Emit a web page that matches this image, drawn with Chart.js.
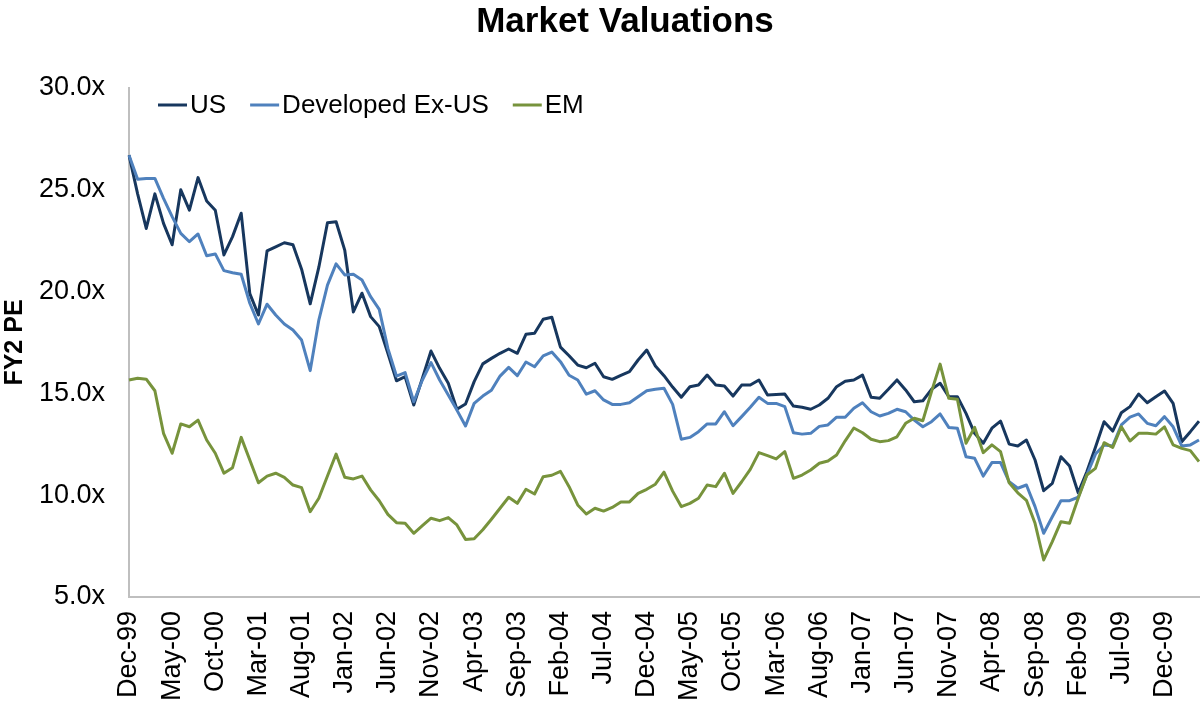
<!DOCTYPE html>
<html>
<head>
<meta charset="utf-8">
<script src="https://cdn.jsdelivr.net/npm/chart.js@4.4.1/dist/chart.umd.min.js"></script>
<style>
  html, body { margin: 0; padding: 0; background: #fff; }
  #wrap { width: 1200px; height: 710px; }
</style>
</head>
<body>
<div id="wrap"><canvas id="chart" width="1200" height="710"></canvas></div>
<script>
var months = [
  "Dec-99",
  "Jan-00","Feb-00","Mar-00","Apr-00","May-00","Jun-00","Jul-00","Aug-00","Sep-00","Oct-00","Nov-00","Dec-00",
  "Jan-01","Feb-01","Mar-01","Apr-01","May-01","Jun-01","Jul-01","Aug-01","Sep-01","Oct-01","Nov-01","Dec-01",
  "Jan-02","Feb-02","Mar-02","Apr-02","May-02","Jun-02","Jul-02","Aug-02","Sep-02","Oct-02","Nov-02","Dec-02",
  "Jan-03","Feb-03","Mar-03","Apr-03","May-03","Jun-03","Jul-03","Aug-03","Sep-03","Oct-03","Nov-03","Dec-03",
  "Jan-04","Feb-04","Mar-04","Apr-04","May-04","Jun-04","Jul-04","Aug-04","Sep-04","Oct-04","Nov-04","Dec-04",
  "Jan-05","Feb-05","Mar-05","Apr-05","May-05","Jun-05","Jul-05","Aug-05","Sep-05","Oct-05","Nov-05","Dec-05",
  "Jan-06","Feb-06","Mar-06","Apr-06","May-06","Jun-06","Jul-06","Aug-06","Sep-06","Oct-06","Nov-06","Dec-06",
  "Jan-07","Feb-07","Mar-07","Apr-07","May-07","Jun-07","Jul-07","Aug-07","Sep-07","Oct-07","Nov-07","Dec-07",
  "Jan-08","Feb-08","Mar-08","Apr-08","May-08","Jun-08","Jul-08","Aug-08","Sep-08","Oct-08","Nov-08","Dec-08",
  "Jan-09","Feb-09","Mar-09","Apr-09","May-09","Jun-09","Jul-09","Aug-09","Sep-09","Oct-09","Nov-09","Dec-09",
  "Jan-10","Feb-10","Mar-10","Apr-10"
];

// FY2 PE, one value per month
var usPE = [
  26.7,
  24.8,23.1,24.8,23.35,22.3,25.0,24.0,25.6,24.45,24.0,21.8,22.7,
  23.85,19.9,18.85,22.0,22.2,22.4,22.3,21.1,19.4,21.2,23.38,23.43,
  22.04,19.0,19.92,18.77,18.28,16.97,15.62,15.82,14.43,15.74,17.08,16.23,
  15.5,14.22,14.48,15.58,16.45,16.72,16.97,17.18,16.97,17.9,17.95,18.64,
  18.74,17.27,16.85,16.39,16.26,16.48,15.82,15.69,15.89,16.07,16.64,17.13,
  16.35,15.87,15.31,14.81,15.33,15.41,15.9,15.41,15.36,14.87,15.41,15.41,
  15.66,14.92,14.95,14.97,14.38,14.32,14.22,14.43,14.76,15.33,15.6,15.66,
  15.9,14.81,14.76,15.2,15.66,15.17,14.59,14.64,15.2,15.5,14.84,14.84,
  14.02,13.04,12.55,13.29,13.64,12.51,12.42,12.71,11.73,10.22,10.58,11.89,
  11.43,10.12,11.15,12.35,13.61,13.15,14.05,14.35,14.97,14.54,14.84,15.12,
  14.51,12.63,13.12,13.64
];

var devExUsPE = [
  26.7,
  25.52,25.56,25.56,24.58,23.68,22.86,22.45,22.83,21.76,21.85,21.03,20.93,
  20.85,19.43,18.41,19.38,18.85,18.41,18.11,17.62,16.12,18.6,20.32,21.36,
  20.82,20.85,20.57,19.75,19.13,17.21,15.85,16.02,14.59,15.66,16.51,15.66,
  14.92,14.18,13.4,14.51,14.87,15.15,15.85,16.28,15.87,16.54,16.31,16.84,
  17.03,16.56,15.89,15.66,14.96,15.13,14.68,14.46,14.46,14.54,14.84,15.13,
  15.2,15.25,14.46,12.75,12.84,13.12,13.5,13.5,14.1,13.41,13.86,14.32,
  14.81,14.51,14.51,14.35,13.07,13.0,13.04,13.38,13.45,13.83,13.83,14.27,
  14.54,14.1,13.89,14.02,14.22,14.1,13.69,13.36,13.61,13.99,13.33,13.29,
  11.89,11.81,10.94,11.6,11.6,10.66,10.34,10.5,9.44,8.13,8.94,9.73,
  9.73,9.9,10.99,12.02,12.47,12.42,13.45,13.83,13.99,13.53,13.41,13.86,
  13.36,12.42,12.47,12.71
];

var emPE = [
  15.66,
  15.74,15.7,15.13,13.04,12.06,13.5,13.36,13.69,12.71,12.06,11.08,11.35,
  12.84,11.73,10.61,10.94,11.08,10.88,10.5,10.37,9.19,9.85,10.94,12.02,
  10.88,10.8,10.94,10.26,9.73,9.06,8.65,8.62,8.13,8.5,8.87,8.75,
  8.9,8.54,7.83,7.86,8.3,8.82,9.36,9.9,9.6,10.29,10.06,10.91,
  10.98,11.17,10.42,9.52,9.08,9.36,9.22,9.4,9.67,9.67,10.09,10.29,
  10.54,11.13,10.2,9.44,9.6,9.85,10.5,10.42,11.08,10.09,10.66,11.27,
  12.09,11.94,11.78,12.14,10.83,10.99,11.24,11.57,11.68,11.97,12.67,13.3,
  13.07,12.75,12.63,12.68,12.87,13.53,13.78,13.66,15.09,16.44,14.76,14.71,
  12.55,13.33,12.09,12.47,12.14,10.61,10.12,9.75,8.62,6.82,7.72,8.7,
  8.62,9.85,10.99,11.32,12.58,12.35,13.36,12.66,13.04,13.04,13.0,13.36,
  12.47,12.3,12.19,11.65
];

var seriesNames = ["US", "Developed Ex-US", "EM"];
var seriesColors = ["#17375E", "#4F81BD", "#77933C"];
var chartTitle = "Market Valuations";

var FONT = '"Liberation Sans", Arial, sans-serif';

// title sits a little left of the plot centre, as in the original
var titlePlugin = {
  id: 'offsetTitle',
  afterDraw: function(chart) {
    var ctx = chart.ctx;
    ctx.save();
    ctx.font = 'bold 35px ' + FONT;
    ctx.fillStyle = '#000';
    ctx.textAlign = 'center';
    ctx.textBaseline = 'middle';
    ctx.fillText(chartTitle, 625, 22);
    ctx.restore();
  }
};

// legend inside the plot, top left
var insideLegend = {
  id: 'insideLegend',
  afterDraw: function(chart) {
    var ctx = chart.ctx;
    var x = chart.chartArea.left + 29;
    var y = chart.chartArea.top + 17;
    ctx.save();
    ctx.font = '26px ' + FONT;
    ctx.textBaseline = 'middle';
    for (var i = 0; i < chart.data.datasets.length; i++) {
      var ds = chart.data.datasets[i];
      ctx.strokeStyle = ds.borderColor;
      ctx.lineWidth = 3;
      ctx.beginPath();
      ctx.moveTo(x, y);
      ctx.lineTo(x + 29, y);
      ctx.stroke();
      ctx.fillStyle = '#000';
      ctx.fillText(ds.label, x + 32, y + 1);
      x += 32 + ctx.measureText(ds.label).width + 24;
    }
    ctx.restore();
  }
};

var datasets = [usPE, devExUsPE, emPE].map(function(vals, i) {
  return {
    label: seriesNames[i],
    data: vals,
    borderColor: seriesColors[i],
    backgroundColor: seriesColors[i],
    borderWidth: 3,
    pointRadius: 0,
    tension: 0,
    fill: false,
    borderJoinStyle: 'round',
    order: 3 - i
  };
});

var ctx = document.getElementById('chart').getContext('2d');
var myChart = new Chart(ctx, {
  type: 'line',
  data: { labels: months, datasets: datasets },
  plugins: [titlePlugin, insideLegend],
  options: {
    responsive: false,
    animation: false,
    layout: { padding: { left: 0, right: 1, top: 88, bottom: 0 } },
    plugins: {
      legend: { display: false },
      tooltip: { enabled: false },
      title: { display: false }
    },
    scales: {
      x: {
        offset: false,
        grid: { display: false },
        border: { display: true, color: '#BFBFBF', width: 2 },
        ticks: {
          autoSkip: false,
          minRotation: 90,
          maxRotation: 90,
          padding: 6,
          color: '#000',
          font: { family: FONT, size: 27 },
          callback: function(v, idx) {
            return idx % 5 === 0 ? months[idx] : '';
          }
        },
        afterFit: function(scale) {
          scale.height = 113;
          scale.paddingLeft = 0;
          scale.paddingRight = 0;
        }
      },
      y: {
        min: 5,
        max: 30,
        grid: { display: false },
        border: { display: true, color: '#BFBFBF', width: 2 },
        ticks: {
          stepSize: 5,
          padding: 16,
          color: '#000',
          font: { family: FONT, size: 27 },
          callback: function(v) { return v.toFixed(1) + 'x'; }
        },
        title: {
          display: true,
          text: 'FY2 PE',
          color: '#000',
          font: { family: FONT, size: 25, weight: 'bold' },
          padding: { top: 0, bottom: 0 }
        },
        afterFit: function(scale) {
          scale.width = 129;
          scale.paddingTop = 0;
          scale.paddingBottom = 0;
        }
      }
    }
  }
});
</script>
</body>
</html>
